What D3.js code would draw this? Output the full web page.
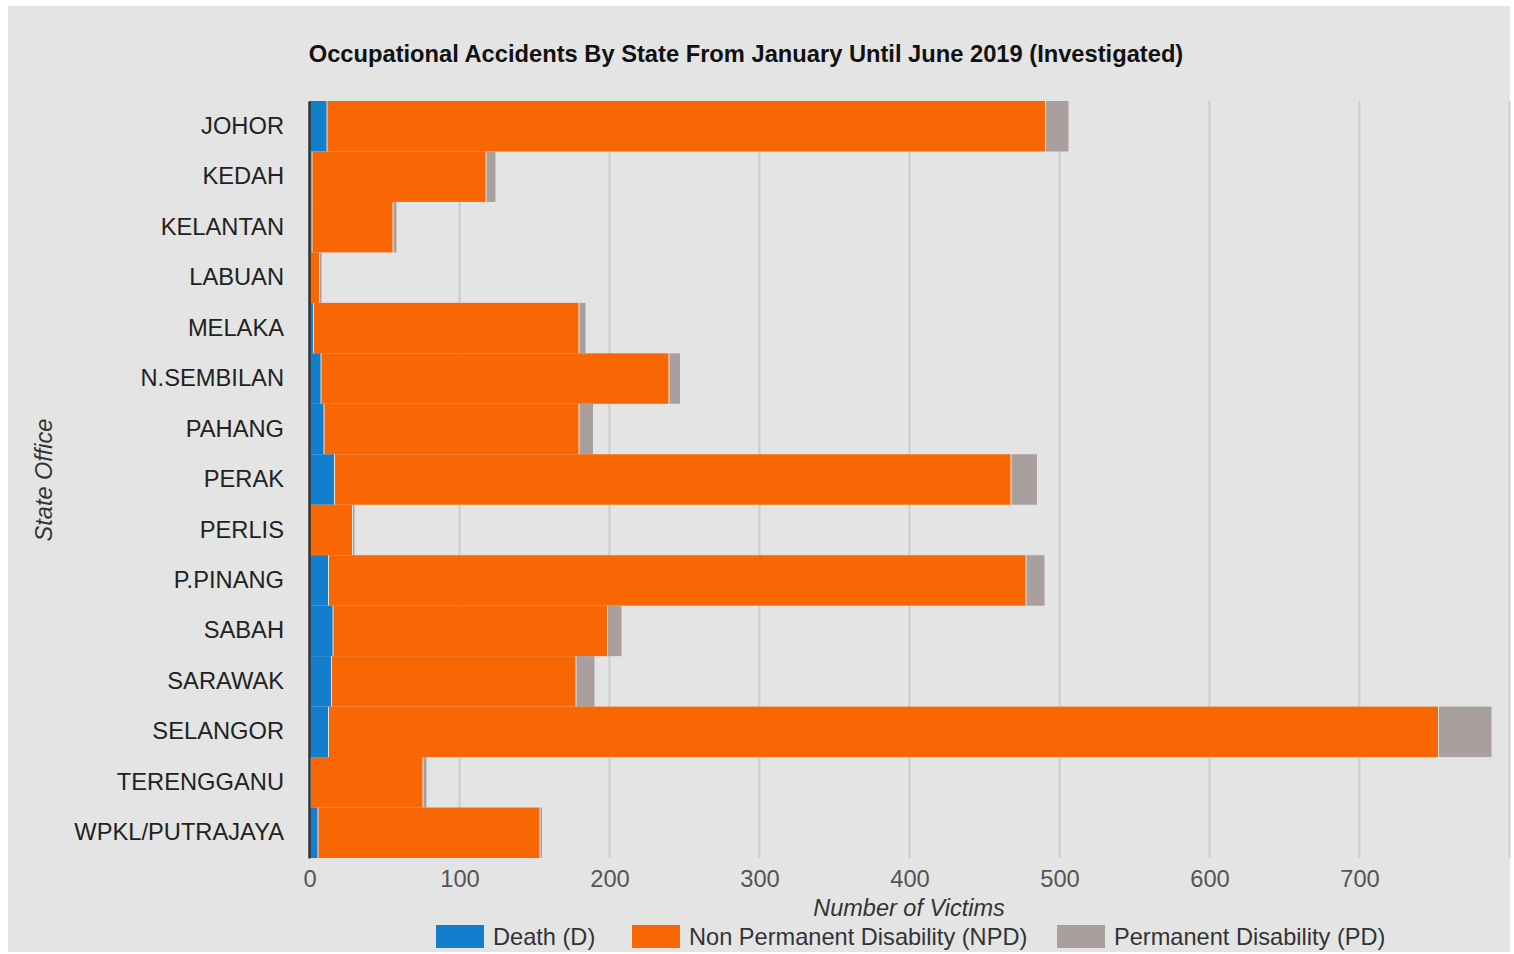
<!DOCTYPE html>
<html>
<head>
<meta charset="utf-8">
<script src="https://cdn.jsdelivr.net/npm/d3@7"></script>
<style>
  body { margin: 0; background: #fff; }
  svg { display: block; font-family: "Liberation Sans", Arial, sans-serif; }
</style>
</head>
<body>
<div class="container"></div>
<script>
// data
var states = ["JOHOR", "KEDAH", "KELANTAN", "LABUAN", "MELAKA", "N.SEMBILAN", "PAHANG",
  "PERAK", "PERLIS", "P.PINANG", "SABAH", "SARAWAK", "SELANGOR", "TERENGGANU", "WPKL/PUTRAJAYA"];
var death = [12, 2, 2, 0, 3, 8, 10, 17, 0, 13, 16, 15, 13, 1, 6];
var npd = [479, 116, 54, 7, 177, 232, 170, 451, 29, 465, 183, 163, 740, 75, 148];
var pd = [15, 6, 2, 1, 4, 7, 9, 17, 1, 12, 9, 12, 35, 2, 1];
var seriesNames = ["Death (D)", "Non Permanent Disability (NPD)", "Permanent Disability (PD)"];
var seriesColors = ["#137fcc", "#f96604", "#a99f9f"];
var xTicks = [0, 100, 200, 300, 400, 500, 600, 700];

var W = 1514, H = 954;
var svg = d3.select('.container').append('svg')
  .attr('width', W).attr('height', H);

// grey panel
svg.append('rect').attr('x', 8).attr('y', 6).attr('width', 1502).attr('height', 946)
  .style('fill', '#e4e4e4');

var x = d3.scaleLinear().domain([0, 800]).range([309.5, 1509.5]);
var y = d3.scaleBand().domain(states).range([101, 858]).padding(0);

// gridlines
svg.append('g').selectAll('line').data([100, 200, 300, 400, 500, 600, 700, 800])
  .enter().append('line')
  .attr('x1', function(d) { return x(d); }).attr('x2', function(d) { return x(d); })
  .attr('y1', 101).attr('y2', 858)
  .style('stroke', '#cbcbcb').style('stroke-width', 2);

// stacked segments
var rows = states.map(function(s, i) { return { state: s, vals: [death[i], npd[i], pd[i]] }; });
var segs = [];
rows.forEach(function(r) {
  var acc = 0;
  r.vals.forEach(function(v, k) {
    segs.push({ state: r.state, x0: acc, x1: acc + v, k: k, last: k === 2 });
    acc += v;
  });
});

svg.append('g').selectAll('rect').data(segs.filter(function(d) { return d.x1 > d.x0; }))
  .enter().append('rect')
  .attr('x', function(d) { return x(d.x0); })
  .attr('y', function(d) { return y(d.state); })
  .attr('width', function(d) {
    var w = x(d.x1) - x(d.x0);
    return d.last ? w : Math.max(w - 1, 0.5);
  })
  .attr('height', y.bandwidth())
  .style('fill', function(d) { return seriesColors[d.k]; });

// y axis
var yAxis = svg.append('g').attr('transform', 'translate(309,0)')
  .call(d3.axisLeft(y).tickSize(0).tickPadding(25));
yAxis.select('.domain').style('stroke', '#333').style('stroke-width', 2.5);
yAxis.selectAll('text').style('font-size', '23.7px').style('fill', '#222')
  .style('font-family', '"Liberation Sans", Arial, sans-serif');

// x axis
var xAxis = svg.append('g').attr('transform', 'translate(0,858)')
  .call(d3.axisBottom(x).tickValues(xTicks).tickSize(0).tickPadding(12));
xAxis.select('.domain').remove();
xAxis.selectAll('text').style('font-size', '23.7px').style('fill', '#555')
  .style('font-family', '"Liberation Sans", Arial, sans-serif');

// titles
svg.append('text').attr('x', 746).attr('y', 62).attr('text-anchor', 'middle')
  .style('font-size', '23.7px').style('font-weight', 'bold').style('fill', '#111')
  .text('Occupational Accidents By State From January Until June 2019 (Investigated)');

svg.append('text').attr('x', 909).attr('y', 916).attr('text-anchor', 'middle')
  .style('font-size', '23.5px').style('font-style', 'italic').style('fill', '#333')
  .text('Number of Victims');

svg.append('text').attr('transform', 'translate(52,480) rotate(-90)').attr('text-anchor', 'middle')
  .style('font-size', '23.5px').style('font-style', 'italic').style('fill', '#333')
  .text('State Office');

// legend
var legendX = [436, 632, 1057];
var legend = svg.append('g').selectAll('g').data(seriesNames).enter().append('g')
  .attr('transform', function(d, i) { return 'translate(' + legendX[i] + ',925)'; });
legend.append('rect').attr('width', 48).attr('height', 23)
  .style('fill', function(d, i) { return seriesColors[i]; });
legend.append('text').attr('x', 57).attr('y', 20)
  .style('font-size', '23.6px').style('fill', '#333')
  .text(function(d) { return d; });
</script>
</body>
</html>
